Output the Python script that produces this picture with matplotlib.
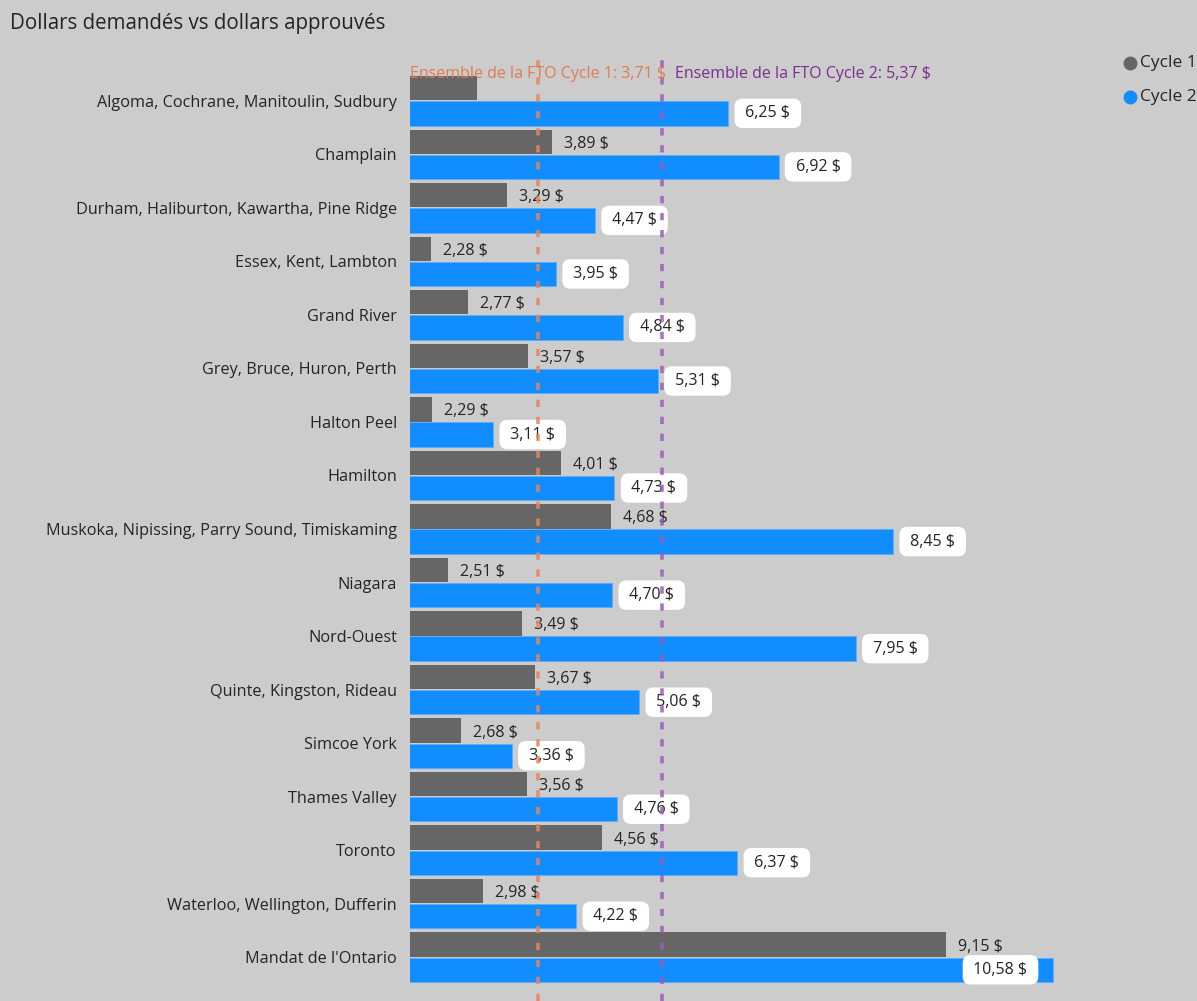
import matplotlib
matplotlib.use("Agg")
import matplotlib.pyplot as plt
from matplotlib.lines import Line2D
import numpy as np

categories = [
    "Algoma, Cochrane, Manitoulin, Sudbury",
    "Champlain",
    "Durham, Haliburton, Kawartha, Pine Ridge",
    "Essex, Kent, Lambton",
    "Grand River",
    "Grey, Bruce, Huron, Perth",
    "Halton Peel",
    "Hamilton",
    "Muskoka, Nipissing, Parry Sound, Timiskaming",
    "Niagara",
    "Nord-Ouest",
    "Quinte, Kingston, Rideau",
    "Simcoe York",
    "Thames Valley",
    "Toronto",
    "Waterloo, Wellington, Dufferin",
    "Mandat de l'Ontario",
]
cycle1 = [2.89, 3.89, 3.29, 2.28, 2.77, 3.57, 2.29, 4.01, 4.68, 2.51, 3.49, 3.67, 2.68, 3.56, 4.56, 2.98, 9.15]
cycle2 = [6.25, 6.92, 4.47, 3.95, 4.84, 5.31, 3.11, 4.73, 8.45, 4.70, 7.95, 5.06, 3.36, 4.76, 6.37, 4.22, 10.58]
ref_cycle1 = 3.71
ref_cycle2 = 5.37
series_names = ["Cycle 1", "Cycle 2"]
title = "Dollars demandés vs dollars approuvés"

BG = "#CCCCCC"
GREY = "#666666"
BLUE = "#118DFF"
ORANGE = "#E8845C"
PURPLE = "#9B5CB8"
TXT = "#252423"
FONT = "Open Sans"

def fmt(v):
    return f"{v:.2f}".replace(".", ",") + " $"

W, H = 1197, 1001
fig = plt.figure(figsize=(W / 100, H / 100), dpi=100, facecolor=BG)
ax_l, ax_r, ax_t, ax_b = 410, 1100, 74, 984
ax = fig.add_axes([ax_l / W, 1 - ax_b / H, (ax_r - ax_l) / W, (ax_b - ax_t) / H])
ax.set_facecolor(BG)
for s in ax.spines.values():
    s.set_visible(False)

n = len(categories)
y = np.arange(n)
bh = 0.455
off = 0.235
ax.barh(y - off, cycle1, height=bh, left=0, color=GREY, zorder=2)
ax.barh(y + off, cycle2, height=bh, left=0, color=BLUE, zorder=2,
        edgecolor="#5AAFFF", linewidth=0.6)
xmin = 2
xmax = 2 + (ax_r - ax_l) / 74.9
ax.set_xlim(xmin, xmax)
ax.set_ylim(n - 0.5, -0.5)
ax.set_xticks([])
ax.set_yticks(y)
ax.set_yticklabels(categories, fontsize=11.7, color=TXT, family=FONT)
ax.tick_params(axis="y", length=0, pad=9.5)

# plot-area limit (px) beyond which the cycle-2 label goes inside the bar end
label_limit = 1060
px_per_unit = (ax_r - ax_l) / (xmax - xmin)
for i, (a, b) in enumerate(zip(cycle1, cycle2)):
    if i != 0:
        ax.annotate(fmt(a), xy=(a, i - off), xytext=(12, -2), textcoords="offset pixels",
                    va="center", ha="left", fontsize=11.5, color=TXT, family=FONT, zorder=4)
    end_px = ax_l + (b - xmin) * px_per_unit
    inside = end_px + 80 > label_limit
    ax.annotate(" " + fmt(b) + " ", xy=(b, i + off),
                xytext=(-21, 0) if inside else (13, 0), textcoords="offset pixels",
                va="center", ha="right" if inside else "left", fontsize=11.5, color=TXT,
                family=FONT, zorder=5,
                bbox=dict(boxstyle="round,pad=0.42,rounding_size=0.5", fc="white", ec="none"))

top_frac = 1 + (ax_t - 55) / (ax_b - ax_t)
bot_frac = -(H - ax_b) / (ax_b - ax_t)
for v, c in [(ref_cycle1, ORANGE), (ref_cycle2, PURPLE)]:
    ax.axvline(v, ymin=bot_frac, ymax=top_frac, color=c, lw=2.6, alpha=0.85,
               dashes=(2.0, 2.7), zorder=6, clip_on=False)

trans = ax.get_xaxis_transform()
ax.text(ref_cycle1, 1.0, "Ensemble de la FTO Cycle 1: " + fmt(ref_cycle1), transform=trans,
        ha="center", va="center", fontsize=11.5, color="#E07B54", family=FONT, zorder=7, clip_on=False)
ax.annotate("Ensemble de la FTO Cycle 2: " + fmt(ref_cycle2), xy=(ref_cycle2, 1.0), xycoords=trans,
            xytext=(13, 0), textcoords="offset pixels", ha="left", va="center",
            fontsize=11.5, color="#7A2F8F", family=FONT, zorder=7, annotation_clip=False)

fig.text(10 / W, 1 - 23 / H, title, fontsize=14.8, color=TXT, family=FONT, ha="left", va="center")

for k, (name, c) in enumerate(zip(series_names, [GREY, BLUE])):
    yy = 1 - (63 + 34 * k) / H
    fig.add_artist(Line2D([1130 / W], [yy], marker="o", markersize=9, color=c,
                          transform=fig.transFigure, linestyle="none"))
    fig.text(1140 / W, yy, name, fontsize=12.5, color=TXT, family=FONT, ha="left", va="center")

fig.savefig("out.png", dpi=100, facecolor=BG)
